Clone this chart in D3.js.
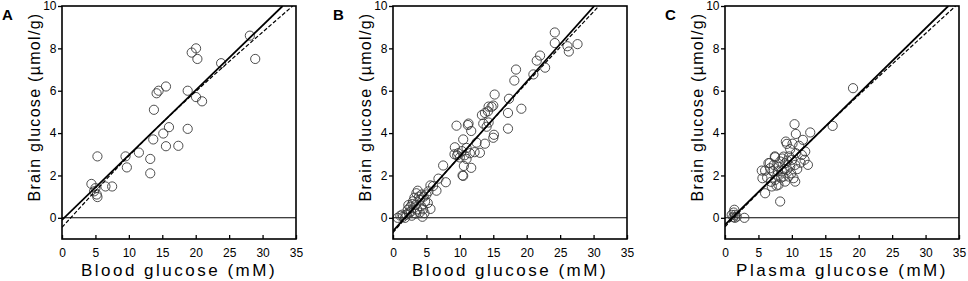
<!DOCTYPE html>
<html>
<head>
<meta charset="utf-8">
<script src="https://cdn.jsdelivr.net/npm/d3@7"></script>
<style>
  body { margin: 0; background: #fff; }
  svg { display: block; font-family: Arial, "Liberation Sans", sans-serif; }
</style>
</head>
<body>
<div id="chart"></div>
<script>
// Brain glucose vs blood/plasma glucose, three panels

var xTicks = [0, 5, 10, 15, 20, 25, 30, 35]
var yTicks = [0, 2, 4, 6, 8, 10]

var letters = ['A', 'B', 'C']
var xLabels = ['Blood glucose (mM)', 'Blood glucose (mM)', 'Plasma glucose (mM)']
var yLabel = 'Brain glucose (\u00b5mol/g)'

// points [blood glucose, brain glucose]
var pointsA = [
  [4.4,1.6],[5.3,2.9],[4.8,1.25],[5.0,1.4],[5.2,1.1],[5.3,0.98],[6.5,1.48],[7.5,1.48],
  [9.5,2.9],[9.7,2.38],[11.5,3.08],[13.2,2.78],[13.2,2.1],[13.65,3.7],[13.75,5.1],
  [14.15,5.88],[14.45,6.0],[15.55,6.2],[15.15,3.98],[16.0,4.28],[15.55,3.38],[17.4,3.4],
  [18.8,6.0],[18.8,4.2],[20.05,5.7],[20.95,5.5],[19.4,7.8],[20.05,8.0],[20.25,7.5],
  [23.8,7.3],[28.1,8.6],[28.9,7.5]
]

var pointsB = [
  [24.2,8.75],[24.2,8.25],[27.6,8.2],[26.3,7.85],[26.1,8.1],[21.5,7.42],[22.0,7.66],[22.75,7.09],
  [21.0,6.77],[18.4,7.0],[18.15,6.48],[19.2,5.15],[17.35,5.62],[17.2,4.95],[17.2,4.21],
  [15.2,5.82],[15.0,5.3],[14.75,5.24],[14.3,5.25],[14.2,5.03],[13.75,4.95],[13.3,4.85],
  [13.5,4.45],[14.0,4.3],[14.3,4.5],[13.75,3.5],[15.0,3.78],[15.1,3.92],[13.0,3.07],
  [12.5,3.55],[11.7,4.1],[11.3,4.45],[11.2,4.38],[9.5,4.35],[10.5,3.7],[9.25,3.33],
  [9.2,3.0],[9.75,3.05],[10.3,3.15],[10.7,2.95],[11.0,2.78],[11.5,3.05],[11.7,2.36],
  [10.5,1.98],[10.6,2.45],[10.4,2.0],[11.0,3.3],[10.0,2.85],[9.6,2.95],[12.2,3.1],
  [7.5,2.47],[7.9,1.68],[6.8,1.85],[5.6,1.53],[6.5,1.28],[5.6,0.42],[5.0,1.1],[5.3,1.25],
  [4.6,1.0],[4.8,0.78],[4.2,0.55],[4.0,0.85],[3.7,1.28],[3.5,1.16],[3.4,0.62],[3.0,0.78],
  [3.1,0.45],[2.7,0.3],[2.6,0.52],[2.2,0.38],[2.0,0.15],[1.5,0.05],[1.1,0.1],[0.7,0.0],
  [4.4,0.05],[4.7,0.22],[4.0,0.25],[3.4,0.2],[2.8,0.1],[2.4,0.25],[1.8,0.0],[3.9,1.0],
  [4.3,1.1],[5.2,0.7],[3.2,0.95],[2.9,0.65],[3.6,0.4],[4.5,0.4],[2.3,0.6],[1.4,0.15],
  [6.0,1.5]
]

var pointsC = [
  [19.15,6.12],[16.1,4.34],[10.4,4.42],[10.6,3.96],[12.75,4.03],[11.65,3.68],[9.1,3.6],
  [9.25,3.49],[11.1,3.4],[9.75,3.24],[10.6,3.05],[12.0,3.13],[11.5,2.97],[7.5,2.86],
  [8.75,2.89],[11.9,2.74],[12.4,2.5],[6.5,2.58],[5.5,2.23],[6.0,2.23],[6.75,2.34],
  [8.25,2.66],[9.0,2.58],[10.0,2.74],[9.75,2.42],[10.5,2.5],[9.25,2.26],[8.5,2.19],
  [5.6,1.87],[7.5,1.79],[8.0,1.56],[9.0,1.71],[10.5,1.71],[10.25,1.87],[6.0,1.16],
  [8.25,0.77],[7.0,1.48],[8.75,1.95],[9.5,1.95],[7.85,2.03],[7.45,2.9],[7.7,1.52],
  [6.7,2.59],[7.1,2.2],[8.0,2.4],[8.6,2.8],[9.6,2.9],[7.3,2.5],[8.9,2.3],[9.9,2.1],
  [10.8,2.3],[6.3,1.9],[7.9,2.2],[8.4,1.9],[9.3,2.7],[10.1,3.5],[11.3,2.6],[6.9,1.7],
  [1.4,0.38],[1.5,0.14],[1.25,0.03],[1.75,0.06],[2.9,0.0],[1.0,0.14],[1.5,0.0],[1.3,0.25]
]

// solid fit line (two end points) and dashed model curve
var solidA = [[0, -0.1], [33.0, 10]]
var dashedA = [[0, -0.45], [15, 4.49], [34.5, 10]]
var solidB = [[0, -0.63], [30.1, 10]]
var dashedB = [[0, -0.7], [14, 4.31], [30.8, 10]]
var solidC = [[0, -0.33], [33.4, 10]]
var dashedC = [[0, -0.42], [15, 4.3], [34.5, 10]]

var allPoints = [pointsA, pointsB, pointsC]
var allSolid = [solidA, solidB, solidC]
var allDashed = [dashedA, dashedB, dashedC]

var plotLefts = [62, 393, 725]
var plotW = 234
var plotTop = 6, plotBottom = 239

var svg = d3.select('#chart').append('svg')
  .attr('width', 968)
  .attr('height', 281)

var yScale = d3.scaleLinear().domain([-1, 10]).range([plotBottom, plotTop])

letters.forEach(function(letter, i) {
  var L = plotLefts[i]
  var xScale = d3.scaleLinear().domain([0, 35]).range([L, L + plotW])
  var g = svg.append('g')

  g.append('clipPath').attr('id', 'clip' + i)
    .append('rect')
    .attr('x', L).attr('y', plotTop)
    .attr('width', plotW).attr('height', plotBottom - plotTop)

  // zero line
  g.append('line')
    .attr('x1', L).attr('x2', L + plotW)
    .attr('y1', yScale(0)).attr('y2', yScale(0))
    .attr('stroke', '#000').attr('stroke-width', 1.1)

  // points
  g.append('g').selectAll('circle')
    .data(allPoints[i])
    .enter().append('circle')
    .attr('cx', d => xScale(d[0]))
    .attr('cy', d => yScale(d[1]))
    .attr('r', 4.6)
    .attr('fill', 'none')
    .attr('stroke', '#3a3a3a')
    .attr('stroke-width', 0.9)

  // fit lines
  var line = d3.line().x(d => xScale(d[0])).y(d => yScale(d[1])).curve(d3.curveNatural)
  g.append('path')
    .attr('clip-path', 'url(#clip' + i + ')')
    .attr('d', line(allDashed[i]))
    .attr('fill', 'none').attr('stroke', '#000')
    .attr('stroke-width', 1.2).attr('stroke-dasharray', '4,2')
  g.append('path')
    .attr('clip-path', 'url(#clip' + i + ')')
    .attr('d', line(allSolid[i]))
    .attr('fill', 'none').attr('stroke', '#000')
    .attr('stroke-width', 1.8)

  // axes
  var xAxis = g.append('g')
    .attr('transform', 'translate(0,' + plotBottom + ')')
    .call(d3.axisBottom(xScale).tickValues(xTicks).tickSize(-4).tickPadding(9))
  var yAxis = g.append('g')
    .attr('transform', 'translate(' + L + ',0)')
    .call(d3.axisLeft(yScale).tickValues(yTicks).tickSize(4).tickPadding(1.5))
  ;[xAxis, yAxis].forEach(function(ax) {
    ax.select('.domain').remove()
    ax.selectAll('line').attr('stroke', '#000').attr('stroke-width', 1.3)
    ax.selectAll('text').attr('fill', '#000').style('font-size', '12px')
      .style('font-family', 'Arial, "Liberation Sans", sans-serif')
  })

  // frame
  g.append('rect')
    .attr('x', L).attr('y', plotTop)
    .attr('width', plotW).attr('height', plotBottom - plotTop)
    .attr('fill', 'none').attr('stroke', '#000').attr('stroke-width', 1.6)

  // labels
  g.append('text')
    .attr('x', L + plotW / 2).attr('y', 276)
    .attr('text-anchor', 'middle')
    .style('font-size', '17px').style('letter-spacing', '2.5px')
    .text(xLabels[i])

  g.append('text')
    .attr('transform', 'translate(' + (L - 22) + ',107) rotate(-90)')
    .attr('text-anchor', 'middle')
    .style('font-size', '16px').style('letter-spacing', '1.3px')
    .text(yLabel)

  g.append('text')
    .attr('x', L - 60).attr('y', 20)
    .style('font-size', '15px').style('font-weight', 'bold')
    .text(letter)
})
</script>
</body>
</html>
